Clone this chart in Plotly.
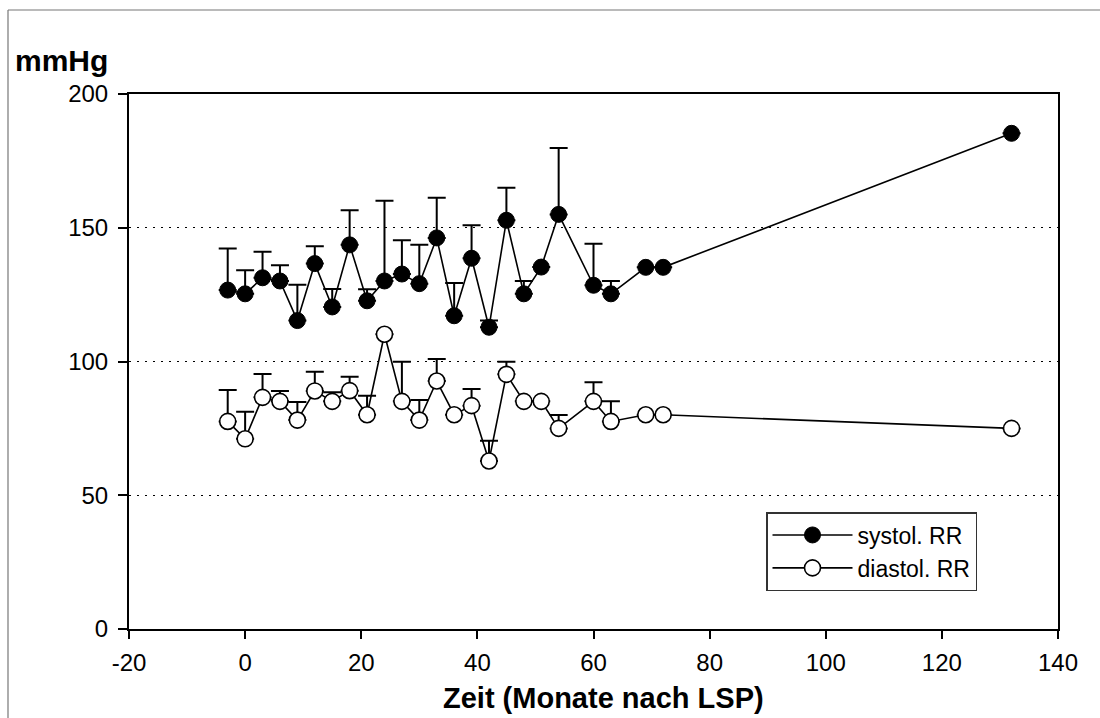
import plotly.graph_objects as go

# Time (months after LSP)
months = [-3, 0, 3, 6, 9, 12, 15, 18, 21, 24, 27, 30, 33, 36, 39, 42, 45, 48, 51, 54, 60, 63, 69, 72, 132]

# systolic blood pressure (mmHg) and upper SD
systolic = [126.7, 125.3, 131.3, 130.1, 115.3, 136.6, 120.4, 143.6, 122.7, 130.1, 132.7, 129.1, 146.2,
            117.1, 138.6, 112.8, 152.8, 125.3, 135.3, 155.0, 128.5, 125.3, 135.2, 135.2, 185.3]
systolic_sd = [15.5, 8.8, 9.7, 5.9, 13.4, 6.5, 6.7, 12.9, 4.3, 30.0, 12.6, 14.5, 15.0,
               12.2, 12.3, 2.5, 12.2, 4.8, None, 24.8, 15.5, 4.8, None, None, None]

# diastolic blood pressure (mmHg) and upper SD
diastolic = [77.6, 71.1, 86.6, 85.1, 78.1, 89.0, 85.1, 89.1, 80.1, 110.2, 85.1, 78.1, 92.7,
             80.1, 83.5, 62.8, 95.2, 85.1, 85.1, 75.0, 85.1, 77.6, 80.1, 80.1, 75.0]
diastolic_sd = [11.7, 10.1, 8.7, 3.9, 6.8, 7.2, 3.4, 5.2, 7.1, None, 14.8, 7.5, 8.2,
                None, 6.2, 7.6, 4.7, None, None, 5.0, 7.1, 7.5, None, None, None]

x_ticks = [-20, 0, 20, 40, 60, 80, 100, 120, 140]
y_ticks = [0, 50, 100, 150, 200]

FONT = "Liberation Sans, Arial, sans-serif"


def minus_zero(sd):
    return [0 if v is not None else None for v in sd]


fig = go.Figure()
fig.add_trace(go.Scatter(
    x=months, y=systolic, name="systol. RR", mode="lines+markers",
    line=dict(color="black", width=1.6),
    marker=dict(symbol="circle", size=16, color="black", line=dict(color="black", width=1)),
    error_y=dict(type="data", symmetric=False, array=systolic_sd, arrayminus=minus_zero(systolic_sd),
                 color="black", thickness=2, width=9),
))
fig.add_trace(go.Scatter(
    x=months, y=diastolic, name="diastol. RR", mode="lines+markers",
    line=dict(color="black", width=1.6),
    marker=dict(symbol="circle", size=16, color="white", line=dict(color="black", width=1.6)),
    error_y=dict(type="data", symmetric=False, array=diastolic_sd, arrayminus=minus_zero(diastolic_sd),
                 color="black", thickness=2, width=9),
))

L, R, T, B = 129, 42, 94, 89
W, H = 1100, 718
pw, ph = W - L - R, H - T - B


def px_x(p):
    return (p - L) / pw


def px_y(p):
    return (H - B - p) / ph


fig.update_layout(
    width=W, height=H,
    margin=dict(l=L, r=R, t=T, b=B, autoexpand=False),
    paper_bgcolor="white", plot_bgcolor="white",
    font=dict(family=FONT, color="black"),
    showlegend=True,
    legend=dict(
        x=px_x(766), y=px_y(512), xanchor="left", yanchor="top",
        bgcolor="white", bordercolor="#333333", borderwidth=1.5,
        font=dict(family=FONT, size=23, color="black"),
        itemwidth=80, tracegroupgap=0,
    ),
    xaxis=dict(
        range=[-20, 140], tickvals=x_ticks, ticktext=[str(v) for v in x_ticks],
        showgrid=False, zeroline=False, automargin=False,
        showline=True, linecolor="black", linewidth=2, mirror=True,
        ticks="outside", ticklen=8, tickwidth=1.5, tickcolor="black",
        tickfont=dict(family=FONT, size=24, color="black"),
        ticklabelstandoff=3,
    ),
    yaxis=dict(
        range=[0, 200], tickvals=y_ticks, ticktext=[str(v) for v in y_ticks],
        showgrid=True, gridcolor="black", gridwidth=1, griddash="2px,6px",
        zeroline=False, automargin=False,
        showline=True, linecolor="black", linewidth=2, mirror=True,
        ticks="outside", ticklen=9, tickwidth=1.5, tickcolor="black",
        tickfont=dict(family=FONT, size=24, color="black"),
        ticklabelstandoff=5,
    ),
    annotations=[
        dict(text="<b>mmHg</b>", xref="paper", yref="paper", x=px_x(13), y=px_y(61),
             xanchor="left", yanchor="middle", showarrow=False,
             font=dict(family=FONT, size=30, color="black")),
        dict(text="<b>Zeit (Monate nach LSP)</b>", xref="paper", yref="paper", x=px_x(603), y=px_y(698),
             xanchor="center", yanchor="middle", showarrow=False,
             font=dict(family=FONT, size=29, color="black")),
    ],
    shapes=[
        dict(type="line", xref="paper", yref="paper",
             x0=px_x(8), x1=px_x(1200), y0=px_y(10), y1=px_y(10),
             line=dict(color="#777777", width=1.2), layer="below"),
        dict(type="line", xref="paper", yref="paper",
             x0=px_x(8), x1=px_x(8), y0=px_y(10), y1=px_y(900),
             line=dict(color="#777777", width=1.2), layer="below"),
    ],
)

fig.write_html("out.html")
